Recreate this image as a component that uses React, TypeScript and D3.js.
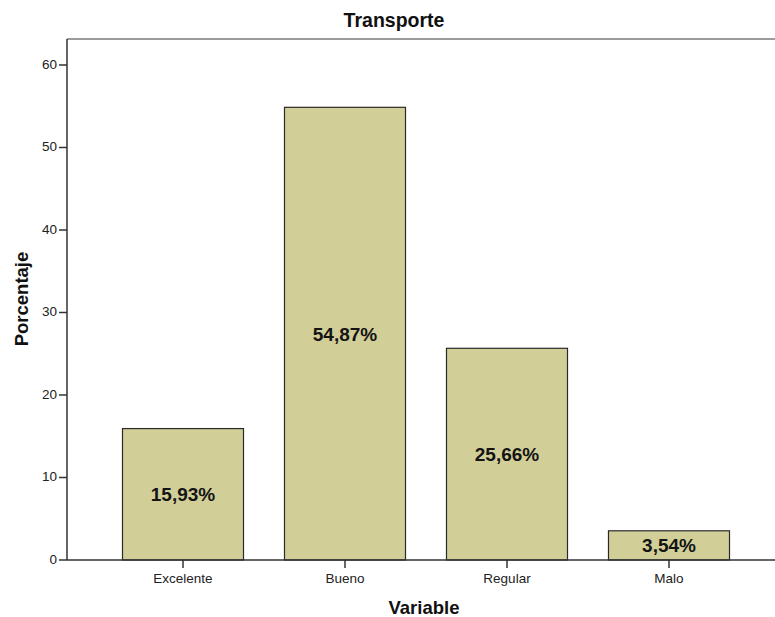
import React from "react";
import * as d3 from "d3";

const categories = ["Excelente", "Bueno", "Regular", "Malo"];
const values = [15.93, 54.87, 25.66, 3.54];
const valueLabels = ["15,93%", "54,87%", "25,66%", "3,54%"];
const yTicks = [0, 10, 20, 30, 40, 50, 60];
const title = "Transporte";
const xTitle = "Variable";
const yTitle = "Porcentaje";

const W = 775;
const H = 617;
const left = 67;
const right = 775;
const top = 39;
const bottom = 560;
const font = "'Liberation Sans', Arial, sans-serif";

export default function App() {
  const y = d3.scaleLinear().domain([0, 63.15]).range([bottom, top]);
  const x = d3
    .scaleBand<string>()
    .domain(categories)
    .range([102, 750])
    .paddingInner(0.253)
    .paddingOuter(0.1265);

  return (
    <svg
      width={W}
      height={H}
      style={{ position: "absolute", left: 0, top: 0, background: "#fff" }}
      fontFamily={font}
    >
      <rect x={0} y={0} width={W} height={H} fill="#fff" />
      {/* top border */}
      <line x1={left} x2={right} y1={top} y2={top} stroke="#7a7a7a" strokeWidth={1.6} />
      {/* bars */}
      {categories.map((c, i) => {
        const x0 = x(c)!;
        const y0 = y(values[i]);
        return (
          <g key={c}>
            <rect
              x={x0}
              y={y0}
              width={x.bandwidth()}
              height={bottom - y0}
              fill="#D2CE98"
              stroke="#2a2a2a"
              strokeWidth={1.2}
            />
            <text
              x={x0 + x.bandwidth() / 2}
              y={(y0 + bottom) / 2 + 2}
              textAnchor="middle"
              dominantBaseline="middle"
              fontSize={19}
              fontWeight="bold"
              fill="#141414"
            >
              {valueLabels[i]}
            </text>
          </g>
        );
      })}
      {/* y axis */}
      <line x1={left} x2={left} y1={top} y2={bottom} stroke="#333" strokeWidth={1.5} />
      {yTicks.map((t) => (
        <g key={t}>
          <line x1={left - 8} x2={left} y1={y(t)} y2={y(t)} stroke="#333" strokeWidth={1.5} />
          <text
            x={left - 10}
            y={y(t)}
            textAnchor="end"
            dominantBaseline="middle"
            fontSize={13.5}
            fill="#222"
          >
            {t}
          </text>
        </g>
      ))}
      {/* x axis */}
      <line x1={left} x2={right} y1={bottom} y2={bottom} stroke="#333" strokeWidth={1.5} />
      {categories.map((c) => {
        const cx = x(c)! + x.bandwidth() / 2;
        return (
          <g key={c}>
            <line x1={cx} x2={cx} y1={bottom} y2={bottom + 8} stroke="#333" strokeWidth={1.5} />
            <text x={cx} y={583} textAnchor="middle" fontSize={13.5} fill="#222">
              {c}
            </text>
          </g>
        );
      })}
      {/* titles */}
      <text x={394} y={27} textAnchor="middle" fontSize={19.5} fontWeight="bold" fill="#111">
        {title}
      </text>
      <text x={424} y={614} textAnchor="middle" fontSize={18.5} fontWeight="bold" fill="#111">
        {xTitle}
      </text>
      <text
        transform={`translate(28,299) rotate(-90)`}
        textAnchor="middle"
        fontSize={18.5}
        fontWeight="bold"
        fill="#111"
      >
        {yTitle}
      </text>
    </svg>
  );
}
